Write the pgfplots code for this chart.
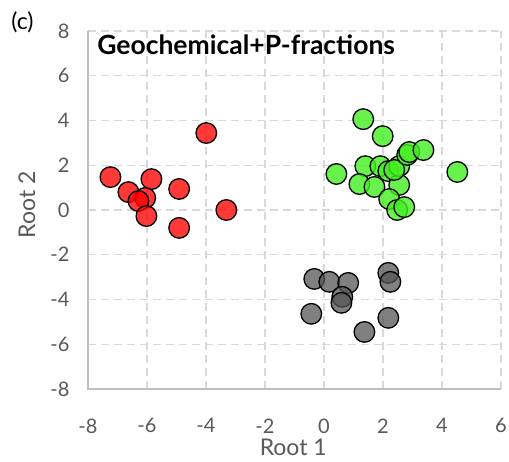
\documentclass[border=0pt]{standalone}
\usepackage{pgfplots}
\pgfplotsset{compat=1.18}
\usepackage{fontspec}
\setmainfont{Lato}

\definecolor{axgray}{HTML}{BFBFBF}
\definecolor{gridgray}{HTML}{D9D9D9}
\definecolor{txtgray}{HTML}{595959}
\definecolor{ptred}{HTML}{FF0000}
\definecolor{ptgreen}{HTML}{44EE22}
\definecolor{ptgray}{HTML}{555555}

\pgfplotstableread{
x y
-7.24 1.47
-6.63 0.80
-5.85 1.38
-6.06 0.54
-6.29 0.40
-6.02 -0.27
-4.91 0.94
-3.99 3.44
-4.91 -0.80
-3.31 0.00
}\redgroup

\pgfplotstableread{
x y
1.33 4.06
1.99 3.30
0.42 1.61
1.40 1.96
1.20 1.16
1.71 1.03
1.91 1.96
2.18 1.74
2.55 1.12
2.21 0.49
2.48 0.00
2.72 0.13
2.55 1.96
2.38 1.79
2.82 2.46
2.89 2.59
3.37 2.68
4.52 1.70
}\greengroup

\pgfplotstableread{
x y
-0.33 -3.08
0.18 -3.21
0.82 -3.26
0.62 -3.88
0.59 -4.15
-0.43 -4.64
1.37 -5.45
2.18 -4.82
2.18 -2.81
2.25 -3.21
}\graygroup

\begin{document}
\begin{tikzpicture}
\useasboundingbox (0pt,0pt) rectangle (509pt,461pt);
\begin{axis}[
    at={(88pt,72pt)}, anchor=south west,
    scale only axis,
    width=413pt, height=358pt,
    xmin=-8, xmax=6, ymin=-8, ymax=8,
    xtick={-8,-6,...,6}, ytick={-8,-6,...,8},
    axis line style={draw=none},
    major tick length=0pt,
    grid=major,
    major grid style={gridgray, line width=1.3pt, dash pattern=on 8pt off 5pt},
    tick label style={font=\fontsize{20}{23}\selectfont, text=txtgray},
    /pgf/number format/assume math mode=true,
    xticklabel style={anchor=north, yshift=-26pt},
    yticklabel style={anchor=east, xshift=-15pt},
    xlabel={Root 1}, ylabel={Root 2},
    label style={font=\fontsize{23}{26}\selectfont, text=txtgray},
    xlabel style={at={(axis description cs:0.497,-0.162)}, anchor=center},
    ylabel style={at={(axis description cs:-0.148,0.514)}, anchor=center, rotate=0},
    clip=false,
]
\draw[axgray, line width=1.6pt] (rel axis cs:0,1) -- (rel axis cs:0,0) -- (rel axis cs:1,0);
\addplot[only marks, mark=*, mark size=10.3pt,
    mark options={fill=ptred, fill opacity=0.78, draw=black, draw opacity=1, line width=1.3pt}]
    table[x=x, y=y] {\redgroup};
\addplot[only marks, mark=*, mark size=10.3pt,
    mark options={fill=ptgreen, fill opacity=0.8, draw=black, draw opacity=1, line width=1.3pt}]
    table[x=x, y=y] {\greengroup};
\addplot[only marks, mark=*, mark size=10.3pt,
    mark options={fill=ptgray, fill opacity=0.75, draw=black, draw opacity=1, line width=1.3pt}]
    table[x=x, y=y] {\graygroup};
\node[anchor=west, inner sep=0pt, font=\fontsize{26.5}{30}\selectfont\bfseries] at (rel axis cs:0.022,0.961) {Geochemical+P-fractions};
\end{axis}
\node[font=\fontsize{23}{26}\selectfont] at (22.5pt,439pt) {(c)};
\end{tikzpicture}
\end{document}
